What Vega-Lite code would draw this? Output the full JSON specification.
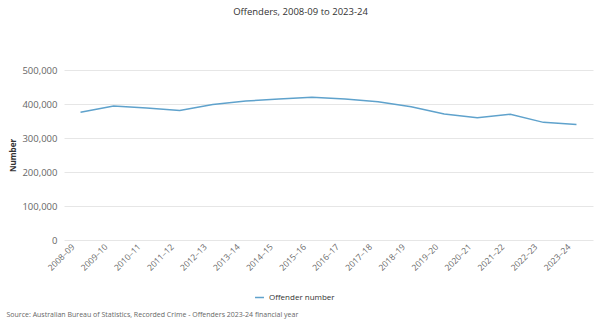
{
  "$schema": "https://vega.github.io/schema/vega-lite/v6.json",
  "width": 529,
  "height": 170,
  "autosize": {"type": "none"},
  "padding": {"left": 64, "top": 70, "right": 7, "bottom": 93},
  "background": "white",
  "config": {"font": "Open Sans", "view": {"stroke": null}},
  "title": {"text": "Offenders, 2008-09 to 2023-24", "fontSize": 9.5, "fontWeight": 500, "color": "#333333", "anchor": "middle", "dx": -28, "offset": 49},
  "data": {"values": [
    {"year": "2008–09", "offenders": 375600},
    {"year": "2009–10", "offenders": 394000},
    {"year": "2010–11", "offenders": 388000},
    {"year": "2011–12", "offenders": 381000},
    {"year": "2012–13", "offenders": 398500},
    {"year": "2013–14", "offenders": 408800},
    {"year": "2014–15", "offenders": 414700},
    {"year": "2015–16", "offenders": 419700},
    {"year": "2016–17", "offenders": 414700},
    {"year": "2017–18", "offenders": 406800},
    {"year": "2018–19", "offenders": 392000},
    {"year": "2019–20", "offenders": 370600},
    {"year": "2020–21", "offenders": 359700},
    {"year": "2021–22", "offenders": 369700},
    {"year": "2022–23", "offenders": 346000},
    {"year": "2023–24", "offenders": 340000}
  ]},
  "mark": {"type": "line", "strokeWidth": 1.5},
  "encoding": {
    "x": {"field": "year", "type": "ordinal", "sort": null,
      "axis": {"title": "Source: Australian Bureau of Statistics, Recorded Crime - Offenders 2023-24 financial year",
        "titleAnchor": "start", "titleAlign": "left", "titleBaseline": "top", "titleX": -58, "titleY": 70,
        "titleFontSize": 7, "titleFontWeight": "normal", "titleColor": "#666666",
        "labelAngle": -45, "labelAlign": "right", "labelBaseline": "middle", "labelFontSize": 8.5, "labelColor": "#666666",
        "labelOffset": -8, "labelPadding": 5,
        "ticks": false, "domain": false, "grid": false}},
    "y": {"field": "offenders", "type": "quantitative", "scale": {"domain": [0, 500000]},
      "axis": {"title": "Number", "titleFontSize": 8, "titleFontWeight": "bold", "titleColor": "#333333", "titlePadding": 4,
        "values": [0, 100000, 200000, 300000, 400000, 500000], "format": ",.0f",
        "labelFontSize": 9.5, "labelColor": "#666666", "labelPadding": 7,
        "ticks": false, "domain": false, "gridColor": "#e6e6e6"}},
    "color": {"datum": "Offender number", "type": "nominal", "scale": {"range": ["#5fa2cc"]},
      "legend": {"title": null, "orient": "none", "legendX": 190, "legendY": 222, "symbolType": "stroke", "symbolSize": 80, "symbolStrokeWidth": 1.5, "labelFontSize": 8, "labelColor": "#333333"}}
  }
}
